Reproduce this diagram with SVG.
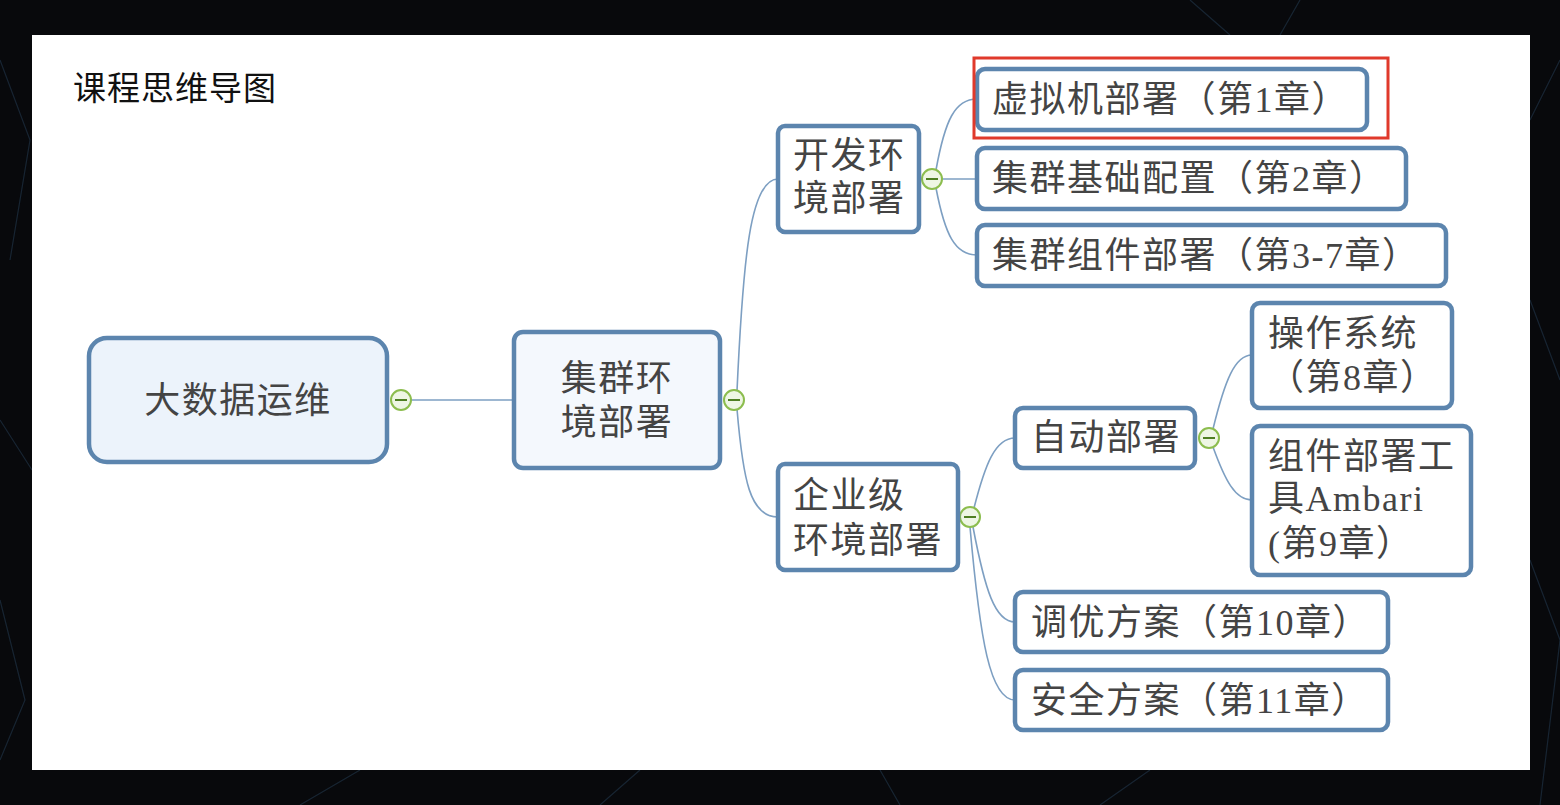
<svg xmlns="http://www.w3.org/2000/svg" width="1560" height="805" viewBox="0 0 1560 805">
<style>
.bg{fill:#08090c}
.net{stroke:#1b2c3c;stroke-width:1.2;fill:none;opacity:0.8}
.box{fill:#ffffff;stroke:#5c85ae;stroke-width:4.5}
.t{font-family:"Liberation Serif","Noto Sans CJK SC",serif;font-size:36px;fill:#444444;letter-spacing:1.5px}
.title{font-family:"Noto Sans CJK SC","Noto Sans",sans-serif;font-size:33px;fill:#111111;letter-spacing:1px}
.conn{fill:none;stroke:#7d9fc2;stroke-width:1.6}
.btn{fill:#eef6e4;stroke:#8cbd4e;stroke-width:2}
.minus{stroke:#4f7f22;stroke-width:2}
</style>
<rect class="bg" x="0" y="0" width="1560" height="805"/>
<g id="background-net">
<path class="net" d="M0,60 L30,140 L10,260 M0,420 L32,470 M0,600 L25,700 L0,760 M1530,120 L1560,60 M1530,300 L1560,380 M1530,560 L1560,640 L1540,805 M1190,0 L1230,35 M1300,0 L1280,35 M300,805 L360,770 M600,805 L640,770 M900,805 L880,770 M1100,805 L1150,770"/>
</g>
<rect x="32" y="35" width="1498" height="735" fill="#ffffff"/>
<text class="title" x="73" y="100">课程思维导图</text>
<g id="connectors">
<line class="conn" x1="411" y1="400" x2="514" y2="400"/>
<path class="conn" d="M737,391 C743,260 750,179 778,179"/>
<path class="conn" d="M737,409 C743,480 750,517 778,517"/>
<path class="conn" d="M936,170 C945,120 955,99 977,99"/>
<path class="conn" d="M942,179 L977,179"/>
<path class="conn" d="M936,188 C945,235 955,255 977,255"/>
<path class="conn" d="M974,508 C985,465 995,438 1015,438"/>
<path class="conn" d="M973,527 C985,590 995,622 1015,622"/>
<path class="conn" d="M970,527 C980,640 990,700 1015,700"/>
<path class="conn" d="M1213,429 C1225,380 1235,355 1252,355"/>
<path class="conn" d="M1213,447 C1225,480 1235,500 1252,500"/>
</g>
<g id="buttons">
<circle class="btn" cx="401" cy="400" r="10"/><line class="minus" x1="395" y1="400" x2="407" y2="400"/>
<circle class="btn" cx="734" cy="400" r="10"/><line class="minus" x1="728" y1="400" x2="740" y2="400"/>
<circle class="btn" cx="932" cy="179" r="10"/><line class="minus" x1="926" y1="179" x2="938" y2="179"/>
<circle class="btn" cx="970" cy="517" r="10"/><line class="minus" x1="964" y1="517" x2="976" y2="517"/>
<circle class="btn" cx="1209" cy="438" r="10"/><line class="minus" x1="1203" y1="438" x2="1215" y2="438"/>
</g>
<g id="root">
<rect class="box" x="89" y="338" width="298" height="124" rx="18" style="fill:#ecf3fb"/>
<text class="t" x="238" y="413" text-anchor="middle">大数据运维</text>
</g>
<g id="cluster">
<rect class="box" x="514" y="332" width="206" height="136" rx="9" style="fill:#f4f8fd"/>
<text class="t" x="617" y="391" text-anchor="middle">集群环</text>
<text class="t" x="617" y="435" text-anchor="middle">境部署</text>
</g>
<g id="dev">
<rect class="box" x="778" y="126" width="141" height="106" rx="7"/>
<text class="t" x="793" y="168">开发环</text>
<text class="t" x="793" y="211">境部署</text>
</g>
<g id="vm">
<rect class="box" x="977" y="69" width="390" height="61" rx="8"/>
<text class="t" x="992" y="112">虚拟机部署（第1章）</text>
</g>
<rect id="highlight" x="974" y="58" width="414" height="80" fill="none" stroke="#e0392b" stroke-width="3"/>
<g id="basic">
<rect class="box" x="977" y="148" width="429" height="61" rx="8"/>
<text class="t" x="992" y="191">集群基础配置（第2章）</text>
</g>
<g id="component">
<rect class="box" x="977" y="225" width="469" height="61" rx="8"/>
<text class="t" x="992" y="268">集群组件部署（第3-7章）</text>
</g>
<g id="enterprise">
<rect class="box" x="778" y="464" width="180" height="106" rx="7"/>
<text class="t" x="793" y="508">企业级</text>
<text class="t" x="793" y="553">环境部署</text>
</g>
<g id="auto">
<rect class="box" x="1015" y="408" width="180" height="60" rx="8"/>
<text class="t" x="1031" y="450">自动部署</text>
</g>
<g id="os">
<rect class="box" x="1252" y="303" width="200" height="105" rx="8"/>
<text class="t" x="1268" y="346">操作系统</text>
<text class="t" x="1268" y="390">（第8章）</text>
</g>
<g id="ambari">
<rect class="box" x="1252" y="426" width="219" height="149" rx="8"/>
<text class="t" x="1268" y="469">组件部署工</text>
<text class="t" x="1268" y="511">具Ambari</text>
<text class="t" x="1268" y="556">(第9章）</text>
</g>
<g id="tuning">
<rect class="box" x="1015" y="592" width="373" height="60" rx="8"/>
<text class="t" x="1031" y="635">调优方案（第10章）</text>
</g>
<g id="security">
<rect class="box" x="1015" y="670" width="373" height="60" rx="8"/>
<text class="t" x="1031" y="713">安全方案（第11章）</text>
</g>
</svg>
